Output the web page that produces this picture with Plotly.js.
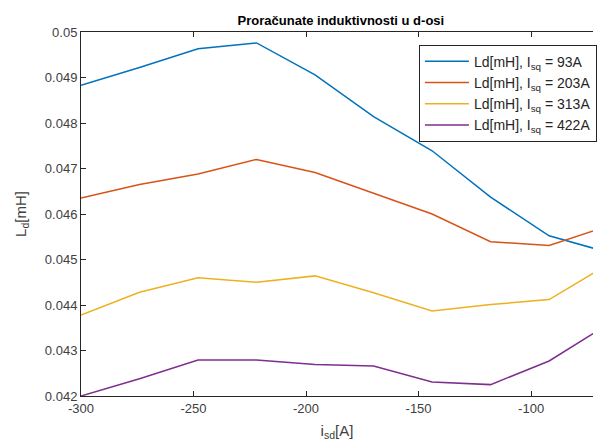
<!DOCTYPE html>
<html>
<head>
<meta charset="utf-8">
<script src="https://cdn.plot.ly/plotly-3.0.1.min.js"></script>
<style>html,body{margin:0;padding:0;background:#fff;}#chart{width:597px;height:443px;}</style>
</head>
<body>
<div id="chart"></div>
<script>
const isd = [-300, -274, -248, -222, -196, -170, -144, -118, -92, -66];
const ld93  = [0.04883, 0.04922, 0.04963, 0.04976, 0.04906, 0.04814, 0.04739, 0.04637, 0.04552, 0.04516];
const ld203 = [0.04635, 0.04665, 0.04688, 0.04720, 0.04691, 0.04646, 0.04600, 0.04539, 0.04531, 0.04573];
const ld313 = [0.04378, 0.04428, 0.04460, 0.04450, 0.04464, 0.04427, 0.04387, 0.04401, 0.04412, 0.04489];
const ld422 = [0.04200, 0.04238, 0.04279, 0.04279, 0.04269, 0.04266, 0.04231, 0.04225, 0.04277, 0.04357];
const seriesNames = ['Ld[mH], I<sub>sq</sub> = 93A', 'Ld[mH], I<sub>sq</sub> = 203A', 'Ld[mH], I<sub>sq</sub> = 313A', 'Ld[mH], I<sub>sq</sub> = 422A'];
const colors = ['#0072BD', '#D95319', '#EDB120', '#7E2F8E'];
const ys = [ld93, ld203, ld313, ld422];

const data = ys.map((y, i) => ({
  x: isd, y: y, type: 'scatter', mode: 'lines', name: seriesNames[i],
  line: {color: colors[i], width: 1.5}
}));

const font = {family: 'Liberation Sans, Arial, sans-serif', size: 13, color: '#404040'};
const layout = {
  width: 597, height: 443,
  margin: {l: 81, r: 0, t: 32, b: 47, pad: 0},
  paper_bgcolor: '#fff', plot_bgcolor: '#fff',
  font: font,
  title: {text: '<b>Proračunate induktivnosti u d-osi</b>', x: 0.571, xanchor: 'center', y: 0.953, yanchor: 'middle',
          font: {family: 'Liberation Sans, Arial, sans-serif', size: 13, color: '#000'}},
  xaxis: {
    range: [-300, -72.5], tickvals: [-300, -250, -200, -150, -100], ticktext: ['-300','-250','-200','-150','-100'],
    ticks: 'inside', ticklen: 5, tickcolor: '#262626', showline: true, linecolor: '#262626', linewidth: 1,
    mirror: 'ticks', showgrid: false, zeroline: false,
    title: {text: 'i<sub>sd</sub>[A]', standoff: 10, font: {size: 15, color: '#404040'}}
  },
  yaxis: {
    range: [0.042, 0.05], tickvals: [0.042,0.043,0.044,0.045,0.046,0.047,0.048,0.049,0.05],
    ticktext: ['0.042','0.043','0.044','0.045','0.046','0.047','0.048','0.049','0.05'],
    ticks: 'inside', ticklen: 5, tickcolor: '#262626', showline: true, linecolor: '#262626', linewidth: 1,
    mirror: false, showgrid: false, zeroline: false,
    title: {text: 'L<sub>d</sub>[mH]', standoff: 14, font: {size: 15, color: '#404040'}}
  },
  legend: {
    x: 0.66, xanchor: 'left', y: 0.965, yanchor: 'top',
    bgcolor: '#fff', bordercolor: '#262626', borderwidth: 1,
    font: {family: 'Liberation Sans, Arial, sans-serif', size: 14, color: '#262626'},
    tracegroupgap: 0, itemwidth: 44
  },
  showlegend: true
};
Plotly.newPlot('chart', data, layout, {displayModeBar: false, staticPlot: true});
</script>
</body>
</html>
